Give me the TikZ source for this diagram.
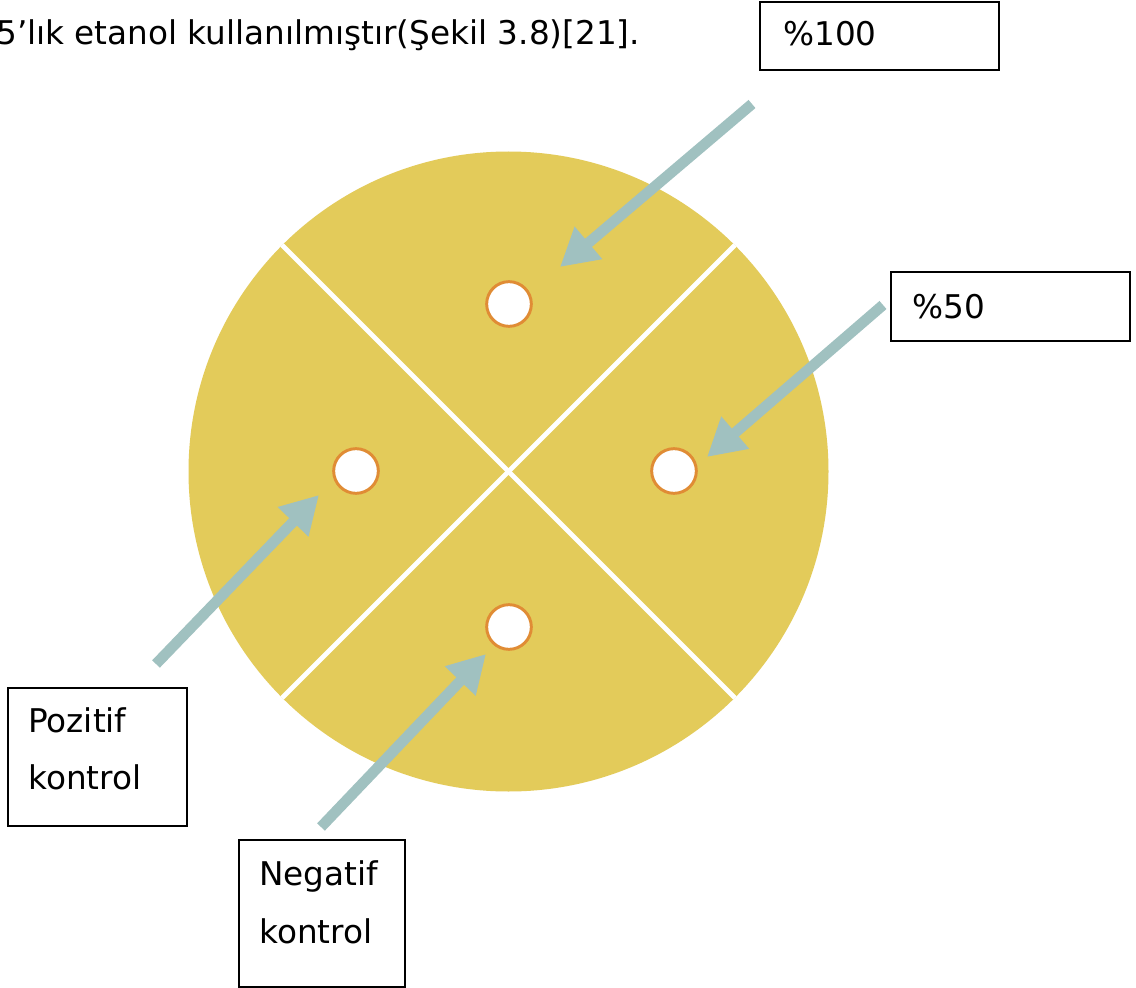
\documentclass[tikz,border=0pt]{standalone}
\usepackage{fontspec}
\setmainfont{DejaVu Sans}
\usetikzlibrary{arrows.meta}
\definecolor{plate}{HTML}{E3CB5A}
\definecolor{arrowc}{HTML}{A0C1C0}
\definecolor{wellc}{HTML}{E08C35}
\tikzset{
  px/.style={x=0.75pt,y=-0.75pt},
  well/.style={circle,draw=wellc,fill=white,line width=2.2pt,minimum size=33.5pt,inner sep=0pt},
  pointer/.style={draw=arrowc,line width=8pt,-{Triangle[length=28pt,width=30pt]}},
  lbox/.style={draw=black,line width=1.5pt,fill=white,inner sep=0pt},
  lbl/.style={anchor=base west,inner sep=0pt,font=\fontsize{24.5}{29}\selectfont},
  divider/.style={draw=white,line width=3.6pt}
}
\begin{document}
\begin{tikzpicture}[px]
\useasboundingbox (0,0) rectangle (1136,988);
\fill[white] (0,0) rectangle (1136,988);
% top text
\node[lbl] (toptext) at (-4,45) {5’lık etanol kullanılmıştır(Şekil 3.8)[21].};
% plate
\node[circle,fill=plate,minimum size=480pt,inner sep=0pt] (plate) at (508.5,471.5) {};
\draw[divider] (plate.north west) -- (plate.south east);
\draw[divider] (plate.north east) -- (plate.south west);
% wells
\node[well] (w100) at (509,304) {};
\node[well] (wpos) at (356,471) {};
\node[well] (w50) at (674,471) {};
\node[well] (wneg) at (509,627) {};
% arrow coordinates
\coordinate (a1s) at (752,104); \coordinate (a1e) at (560,267);
\coordinate (a2s) at (883,305); \coordinate (a2e) at (707,457);
\coordinate (a3s) at (156,664); \coordinate (a3e) at (319,495);
\coordinate (a4s) at (321,827); \coordinate (a4e) at (486,654);
\draw[pointer] (a1s) -- (a1e);
\draw[pointer] (a2s) -- (a2e);
\draw[pointer] (a3s) -- (a3e);
\draw[pointer] (a4s) -- (a4e);
% boxes
\node[lbox,minimum width=179.25pt,minimum height=51pt] (b100) at (879.5,36) {};
\node[lbl] (t100) at (783,46) {\%100};
\node[lbox,minimum width=179.25pt,minimum height=51.75pt] (b50) at (1010.5,306.5) {};
\node[lbl] (t50) at (912,318) {\%50};
\node[lbox,minimum width=134.25pt,minimum height=103.5pt] (bpos) at (97.5,757) {};
\node[lbl] (tpos1) at (28,732) {Pozitif};
\node[lbl] (tpos2) at (28,789) {kontrol};
\node[lbox,minimum width=124.5pt,minimum height=110.25pt] (bneg) at (322,913.5) {};
\node[lbl] (tneg1) at (259,885) {Negatif};
\node[lbl] (tneg2) at (259,943) {kontrol};
\end{tikzpicture}
\end{document}
